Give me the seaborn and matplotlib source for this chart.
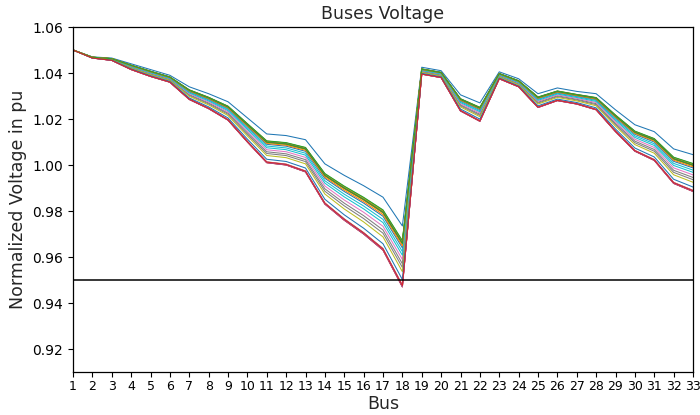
import matplotlib
matplotlib.use("Agg")
import matplotlib.pyplot as plt
import seaborn as sns
import pandas as pd

buses = list(range(1, 34))

# Voltage profile at the lightest load (top line)
v_light = [1.0500, 1.0470, 1.0465, 1.0440, 1.0415, 1.0390, 1.0340, 1.0310, 1.0275, 1.0205,
           1.0135, 1.0128, 1.0110, 1.0005, 0.9955, 0.9910, 0.9860, 0.9735, 1.0425, 1.0410,
           1.0305, 1.0270, 1.0405, 1.0375, 1.0310, 1.0335, 1.0320, 1.0310, 1.0240, 1.0175,
           1.0145, 1.0070, 1.0045]

# Voltage profile at the peak load (bottom line)
v_peak = [1.0500, 1.0465, 1.0455, 1.0415, 1.0385, 1.0360, 1.0285, 1.0245, 1.0195, 1.0100,
          1.0010, 1.0000, 0.9970, 0.9830, 0.9760, 0.9700, 0.9630, 0.9470, 1.0395, 1.0380,
          1.0235, 1.0190, 1.0375, 1.0340, 1.0250, 1.0280, 1.0265, 1.0240, 1.0145, 1.0060,
          1.0020, 0.9920, 0.9885]

# Relative position of each hourly curve between the two profiles (read at bus 18)
hour_level = [0.00, 0.27, 0.25, 1.00, 0.99, 0.97, 0.98, 0.62, 0.26, 0.42,
              0.36, 0.30, 0.24, 1.00, 0.995, 0.28, 0.55, 0.68, 0.75, 0.48,
              0.88, 0.33, 0.29, 0.98]

rows = []
for h, lv in enumerate(hour_level):
    for b, vl, vp in zip(buses, v_light, v_peak):
        rows.append({"Bus": b, "V": vl + lv * (vp - vl), "hour": h})
df = pd.DataFrame(rows)

sns.set_style("ticks")
plt.rcParams['font.family'] = ['DejaVu Sans']

fig = plt.figure(figsize=(7, 4.15), dpi=100)
ax = fig.add_axes([73 / 700, 1 - 372 / 415, 620 / 700, 345 / 415])

tab10 = sns.color_palette("tab10", 10)
palette = [tab10[i % 10] for i in range(len(hour_level))]
sns.lineplot(data=df, x="Bus", y="V", hue="hour", palette=palette,
             estimator=None, linewidth=0.75, legend=False, ax=ax)

ax.axhline(0.95, color="black", linewidth=1.1)

ax.set_xlim(1, 33)
ax.set_ylim(0.91, 1.06)
ax.set_xticks(buses)
ax.set_xticklabels([str(b) for b in buses], fontsize=9)
yt = [0.92, 0.94, 0.96, 0.98, 1.00, 1.02, 1.04, 1.06]
ax.set_yticks(yt)
ax.set_yticklabels([f"{v:.2f}" for v in yt], fontsize=10)
ax.set_xlabel("Bus", fontsize=12.5, labelpad=1)
ax.set_ylabel("Normalized Voltage in pu", fontsize=12.5)
ax.set_title("Buses Voltage", fontsize=12.5)
for s in ax.spines.values():
    s.set_color("black")
    s.set_linewidth(0.9)
ax.tick_params(colors="black", direction="out", length=3.5, width=0.8)
ax.tick_params(axis="x", pad=2.5)

fig.savefig("out.png", dpi=100)
